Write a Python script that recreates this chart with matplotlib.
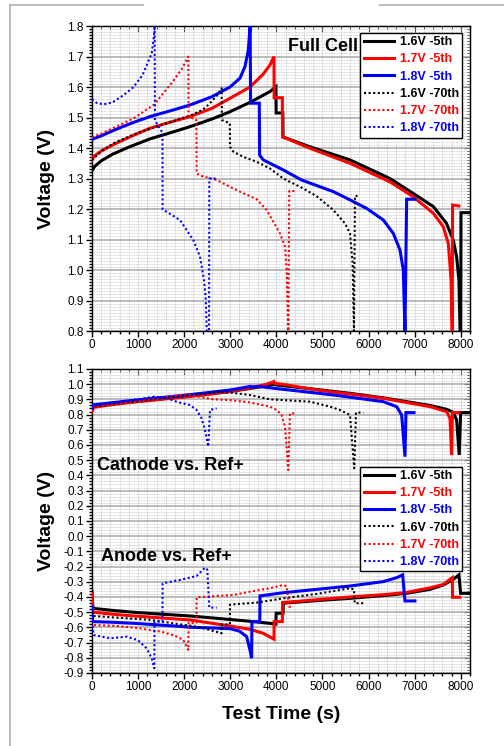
import matplotlib
matplotlib.use("Agg")
import matplotlib.pyplot as plt
from matplotlib.ticker import MultipleLocator, FormatStrFormatter
from matplotlib.lines import Line2D

plt.rcParams['font.family'] = ['Liberation Sans', 'DejaVu Sans']
plt.rcParams['axes.unicode_minus'] = False

# ---- Full cell voltage vs. test time (s, V) ----
full_16v_5th = [(0, 1.326), (60, 1.34), (200, 1.358), (450, 1.38), (800, 1.403), (1258, 1.43),
                (1700, 1.45), (2126, 1.47), (2600, 1.495), (2994, 1.519), (3430, 1.55), (3861, 1.585),
                (3990, 1.601), (3995, 1.515), (4140, 1.515), (4145, 1.436), (4729, 1.404), (5597, 1.361),
                (6464, 1.30), (6970, 1.251), (7405, 1.208), (7690, 1.153), (7838, 1.098), (7910, 1.044),
                (7960, 0.967), (7985, 0.80), (8000, 0.80), (8005, 1.188), (8200, 1.188)]
full_17v_5th = [(0, 1.362), (60, 1.375), (200, 1.39), (450, 1.41), (800, 1.435), (1258, 1.465),
                (1700, 1.485), (2126, 1.503), (2600, 1.53), (2994, 1.563), (3427, 1.60), (3700, 1.64),
                (3861, 1.672), (3948, 1.70), (3952, 1.565), (4129, 1.565), (4133, 1.437), (4729, 1.399),
                (5597, 1.35), (6464, 1.289), (6970, 1.24), (7405, 1.186), (7620, 1.142), (7730, 1.087),
                (7790, 0.967), (7815, 0.80), (7822, 1.213), (7960, 1.21)]
full_18v_5th = [(0, 1.428), (60, 1.432), (200, 1.44), (500, 1.46), (900, 1.484), (1258, 1.503),
                (1700, 1.522), (2126, 1.541), (2600, 1.568), (2994, 1.60), (3210, 1.629), (3319, 1.667),
                (3391, 1.721), (3420, 1.78), (3432, 1.80), (3440, 1.547), (3630, 1.547), (3636, 1.377),
                (3716, 1.361), (3861, 1.35), (4150, 1.328), (4549, 1.295), (5235, 1.257), (5597, 1.23),
                (5958, 1.202), (6320, 1.164), (6536, 1.12), (6681, 1.066), (6753, 1.0), (6790, 0.80),
                (6826, 1.232), (7006, 1.232)]
full_16v_70th = [(0, 1.36), (200, 1.39), (500, 1.418), (1000, 1.45), (1500, 1.475), (2126, 1.506),
                 (2400, 1.525), (2560, 1.547), (2700, 1.57), (2813, 1.596), (2818, 1.492), (2990, 1.481),
                 (2995, 1.404), (3066, 1.388), (3283, 1.371), (3572, 1.355), (3861, 1.333), (4150, 1.30),
                 (4550, 1.27), (4874, 1.242), (5235, 1.197), (5488, 1.153), (5597, 1.12), (5654, 1.022),
                 (5683, 0.80), (5705, 1.243), (5760, 1.243)]
full_17v_70th = [(0, 1.436), (200, 1.447), (500, 1.468), (900, 1.497), (1352, 1.543), (1764, 1.62),
                 (1950, 1.66), (2090, 1.70), (2095, 1.503), (2265, 1.492), (2270, 1.317), (2343, 1.31),
                 (2704, 1.295), (3138, 1.262), (3572, 1.232), (3789, 1.197), (4078, 1.12), (4187, 1.076),
                 (4223, 1.0), (4259, 0.80), (4280, 1.259), (4403, 1.259)]
full_18v_70th = [(0, 1.56), (100, 1.548), (250, 1.543), (450, 1.55), (700, 1.575), (900, 1.60),
                 (1100, 1.64), (1295, 1.71), (1340, 1.76), (1360, 1.80), (1365, 1.49), (1528, 1.45),
                 (1533, 1.199), (1620, 1.191), (1909, 1.164), (2198, 1.098), (2343, 1.044), (2430, 0.967),
                 (2466, 0.912), (2490, 0.80), (2540, 0.80), (2545, 1.30), (2704, 1.30)]

# ---- Cathode vs. Ref+ ----
cat_16v_5th = [(0, 0.83), (40, 0.855), (500, 0.872), (1000, 0.888), (1500, 0.903), (2000, 0.918),
               (2500, 0.934), (3000, 0.952), (3500, 0.975), (3990, 1.0), (3995, 0.995), (4145, 0.99),
               (4874, 0.965), (5597, 0.94), (6320, 0.91), (7332, 0.86), (7690, 0.835), (7838, 0.815),
               (7910, 0.764), (7967, 0.534), (7997, 0.813), (8200, 0.813)]
cat_17v_5th = [(0, 0.82), (40, 0.848), (500, 0.868), (1000, 0.885), (1500, 0.90), (2000, 0.915),
               (2500, 0.932), (3000, 0.952), (3500, 0.98), (3800, 1.0), (3948, 1.017), (3955, 1.005),
               (4129, 1.0), (4874, 0.962), (5597, 0.935), (6320, 0.907), (7332, 0.852), (7694, 0.819),
               (7766, 0.775), (7802, 0.534), (7820, 0.813), (7960, 0.813)]
cat_18v_5th = [(0, 0.84), (40, 0.865), (500, 0.88), (1000, 0.897), (1500, 0.912), (2000, 0.927),
               (2500, 0.944), (3000, 0.962), (3432, 0.985), (3440, 0.982), (3640, 0.984), (4150, 0.966),
               (5235, 0.929), (6320, 0.885), (6609, 0.852), (6718, 0.797), (6790, 0.523), (6811, 0.813),
               (6985, 0.813)]
cat_16v_70th = [(0, 0.83), (40, 0.852), (500, 0.87), (1000, 0.887), (1500, 0.905), (2000, 0.922),
                (2500, 0.94), (2813, 0.952), (2818, 0.948), (2994, 0.945), (3427, 0.929), (3861, 0.90),
                (4729, 0.885), (5163, 0.852), (5380, 0.83), (5597, 0.797), (5690, 0.447), (5727, 0.813),
                (5886, 0.813)]
cat_17v_70th = [(0, 0.82), (40, 0.85), (500, 0.87), (1000, 0.89), (1500, 0.91), (2054, 0.933),
                (2100, 0.93), (2632, 0.90), (3000, 0.895), (3427, 0.88), (3861, 0.852), (4006, 0.83),
                (4114, 0.797), (4187, 0.72), (4259, 0.436), (4295, 0.808), (4403, 0.808)]
cat_18v_70th = [(0, 0.83), (40, 0.86), (500, 0.88), (1000, 0.90), (1352, 0.918), (1400, 0.915),
                (1620, 0.907), (1909, 0.878), (2126, 0.863), (2270, 0.83), (2380, 0.775), (2451, 0.70),
                (2523, 0.589), (2560, 0.83), (2704, 0.841)]

# ---- Anode vs. Ref+ ----
an_16v_5th = [(0, -0.365), (20, -0.475), (500, -0.49), (1000, -0.503), (1500, -0.513), (2126, -0.525),
              (2800, -0.543), (3500, -0.562), (3990, -0.578), (3995, -0.507), (4145, -0.507),
              (4150, -0.441), (4874, -0.424), (5597, -0.409), (6320, -0.391), (6826, -0.376),
              (7332, -0.35), (7621, -0.321), (7838, -0.284), (7960, -0.255), (7997, -0.376),
              (8200, -0.376)]
an_17v_5th = [(0, -0.38), (20, -0.50), (500, -0.515), (1000, -0.527), (1500, -0.538), (2126, -0.551),
              (2994, -0.591), (3427, -0.613), (3716, -0.639), (3948, -0.678), (3952, -0.562),
              (4129, -0.562), (4133, -0.437), (4874, -0.418), (5597, -0.40), (6320, -0.385),
              (6826, -0.37), (7332, -0.34), (7620, -0.318), (7766, -0.284), (7816, -0.273),
              (7822, -0.402), (7980, -0.402)]
an_18v_5th = [(0, -0.464), (15, -0.562), (500, -0.567), (1000, -0.575), (1500, -0.585), (2126, -0.599),
              (2994, -0.608), (3200, -0.625), (3355, -0.661), (3427, -0.749), (3463, -0.803),
              (3470, -0.562), (3640, -0.562), (3645, -0.393), (4150, -0.372), (4874, -0.35),
              (5597, -0.328), (6320, -0.299), (6609, -0.273), (6739, -0.255), (6790, -0.426),
              (7006, -0.426)]
an_16v_70th = [(0, -0.50), (20, -0.525), (500, -0.535), (1258, -0.551), (2343, -0.599), (2813, -0.639),
               (2818, -0.58), (2990, -0.58), (2995, -0.45), (3572, -0.437), (4150, -0.409),
               (4874, -0.38), (5597, -0.343), (5683, -0.35), (5700, -0.441), (5886, -0.441)]
an_17v_70th = [(0, -0.56), (30, -0.585), (500, -0.59), (1000, -0.605), (1500, -0.628), (1800, -0.655),
               (1981, -0.683), (2090, -0.749), (2095, -0.57), (2265, -0.57), (2270, -0.402),
               (3066, -0.387), (3427, -0.365), (3861, -0.343), (4150, -0.321), (4223, -0.33),
               (4273, -0.464), (4331, -0.464)]
an_18v_70th = [(0, -0.56), (35, -0.65), (390, -0.672), (752, -0.661), (990, -0.683), (1186, -0.738),
               (1294, -0.803), (1352, -0.869), (1357, -0.562), (1528, -0.562), (1533, -0.31),
               (1909, -0.288), (2270, -0.262), (2451, -0.207), (2502, -0.22), (2545, -0.47),
               (2704, -0.47)]

labels = ['1.6V -5th', '1.7V -5th', '1.8V -5th', '1.6V -70th', '1.7V -70th', '1.8V -70th']
colors = ['black', '#ff0000', '#0000ff', 'black', '#ff0000', '#0000ff']
styles = ['solid'] * 3 + ['dotted'] * 3

full_set = [full_16v_5th, full_17v_5th, full_18v_5th, full_16v_70th, full_17v_70th, full_18v_70th]
cat_set = [cat_16v_5th, cat_17v_5th, cat_18v_5th, cat_16v_70th, cat_17v_70th, cat_18v_70th]
an_set = [an_16v_5th, an_17v_5th, an_18v_5th, an_16v_70th, an_17v_70th, an_18v_70th]


def draw(ax, curve, color, style, label=None):
    t = [p[0] for p in curve]
    v = [p[1] for p in curve]
    if style == 'solid':
        ax.plot(t, v, color=color, lw=2.2, solid_joinstyle='miter', label=label, zorder=3)
    else:
        ax.plot(t, v, color=color, lw=1.5, linestyle=(0, (1, 1.2)), label=label, zorder=3)


def style_axes(ax, ymin, ymax, yminor):
    ax.set_xlim(0, 8200)
    ax.set_ylim(ymin, ymax)
    ax.xaxis.set_major_locator(MultipleLocator(1000))
    ax.xaxis.set_minor_locator(MultipleLocator(200))
    ax.yaxis.set_major_locator(MultipleLocator(0.1))
    ax.yaxis.set_minor_locator(MultipleLocator(yminor))
    ax.yaxis.set_major_formatter(FormatStrFormatter('%.1f'))
    ax.tick_params(which='both', direction='out', top=False, right=False, labelsize=8.5, width=1.0)
    ax.tick_params(which='major', length=4, pad=2)
    ax.tick_params(which='minor', length=2)
    ax.yaxis.grid(True, which='major', color='#a8a8a8', lw=1.1, ls='-', zorder=0)
    ax.yaxis.grid(True, which='minor', color='#c4c4c4', lw=0.6, ls=(0, (1, 1)), zorder=0)
    ax.xaxis.grid(True, which='both', color='#c4c4c4', lw=0.6, ls=(0, (1, 1)), zorder=0)
    ax.set_axisbelow(True)
    for s in ax.spines.values():
        s.set_linewidth(1.0)
        s.set_color('black')
    top = ax.secondary_xaxis('top')
    top.xaxis.set_major_locator(MultipleLocator(1000))
    top.xaxis.set_minor_locator(MultipleLocator(200))
    top.tick_params(which='both', direction='in', labeltop=False)
    top.tick_params(which='major', length=4)
    top.tick_params(which='minor', length=2)
    right = ax.secondary_yaxis('right')
    right.yaxis.set_major_locator(MultipleLocator(0.1))
    right.yaxis.set_minor_locator(MultipleLocator(yminor))
    right.tick_params(which='both', direction='in', labelright=False)
    right.tick_params(which='major', length=4)
    right.tick_params(which='minor', length=2)


def add_legend(ax, anchor):
    leg = ax.legend(loc='upper right', bbox_to_anchor=anchor,
                    prop={'weight': 'bold', 'size': 9}, frameon=True, fancybox=False,
                    edgecolor='black', framealpha=1, borderpad=0.25, labelspacing=0.42,
                    handlelength=2.4, handletextpad=0.5, borderaxespad=0)
    leg.get_frame().set_linewidth(1.0)
    for txt, c in zip(leg.get_texts(), colors):
        txt.set_color(c)
    leg.set_zorder(5)


fig = plt.figure(figsize=(5.04, 7.46), dpi=100)
ax1 = fig.add_axes([0.1825, 0.5563, 0.75, 0.4088])
ax2 = fig.add_axes([0.1825, 0.0979, 0.75, 0.4075])

for curve, c, s, lab in zip(full_set, colors, styles, labels):
    draw(ax1, curve, c, s, lab)
for curve, c, s, lab in zip(cat_set, colors, styles, labels):
    draw(ax2, curve, c, s, lab)
for curve, c, s in zip(an_set, colors, styles):
    draw(ax2, curve, c, s)

style_axes(ax1, 0.8, 1.8, 0.01)
style_axes(ax2, -0.9, 1.1, 0.02)

ax1.set_ylabel('Voltage (V)', fontsize=14, fontweight='bold', labelpad=9)
ax2.set_ylabel('Voltage (V)', fontsize=14, fontweight='bold', labelpad=6)
ax2.set_xlabel('Test Time (s)', fontsize=14, fontweight='bold', labelpad=9)

ax1.text(0.519, 0.918, 'Full Cell', transform=ax1.transAxes, fontsize=13,
         fontweight='bold', va='baseline', ha='left', zorder=6)
ax2.text(0.013, 0.668, 'Cathode vs. Ref+', transform=ax2.transAxes, fontsize=13,
         fontweight='bold', va='baseline', ha='left', zorder=6)
ax2.text(0.023, 0.369, 'Anode vs. Ref+', transform=ax2.transAxes, fontsize=13,
         fontweight='bold', va='baseline', ha='left', zorder=6)

add_legend(ax1, (0.979, 0.977))
add_legend(ax2, (0.979, 0.678))

# page frame lines around the figure
edge = '#bdbdbd'
fig.add_artist(Line2D([10 / 504, 143 / 504], [1 - 5 / 746, 1 - 5 / 746], color=edge, lw=1.5))
fig.add_artist(Line2D([380 / 504, 1.0], [1 - 5 / 746, 1 - 5 / 746], color=edge, lw=1.5))
fig.add_artist(Line2D([10 / 504, 10 / 504], [0, 1 - 5 / 746], color=edge, lw=1.5))

fig.savefig('out.png', dpi=100)
